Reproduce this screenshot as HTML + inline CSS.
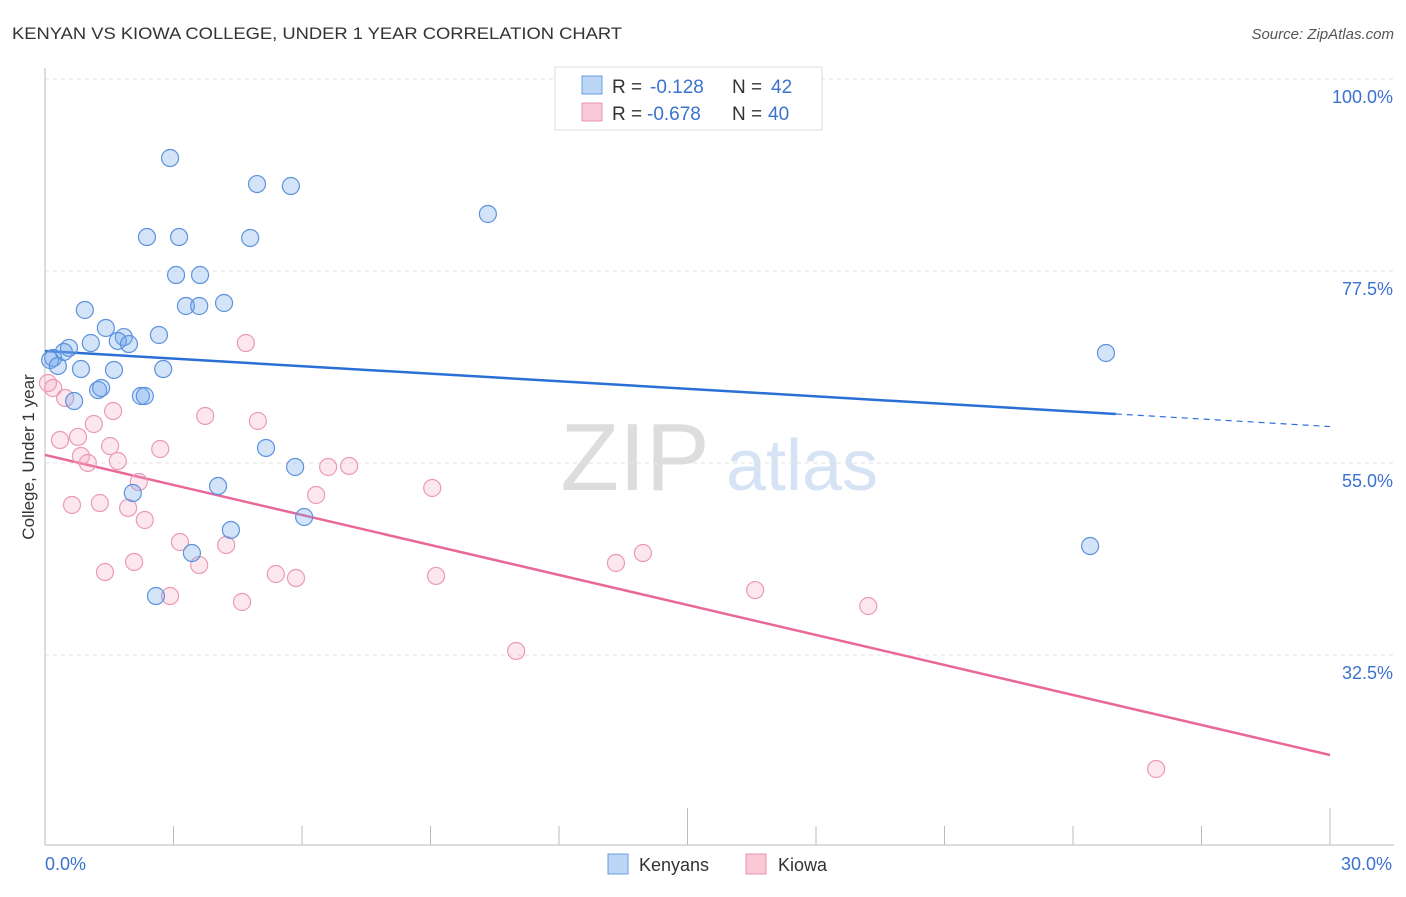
<!DOCTYPE html>
<html><head><meta charset="utf-8"><style>
body{margin:0;background:#fff;font-family:"Liberation Sans",sans-serif}
svg text{font-family:"Liberation Sans",sans-serif}
</style></head><body>
<svg id="c" width="1406" height="892">
<text x="12" y="39" font-size="17" fill="#333" textLength="610" lengthAdjust="spacingAndGlyphs">KENYAN VS KIOWA COLLEGE, UNDER 1 YEAR CORRELATION CHART</text>
<text x="1394" y="39" font-size="15" fill="#555" font-style="italic" text-anchor="end">Source: ZipAtlas.com</text>
<g>
<text x="635" y="490" font-size="96" fill="#ddd" font-family="Liberation Serif,serif" text-anchor="middle">ZIP</text>
<text x="802" y="490" font-size="72" fill="#d5e3f5" text-anchor="middle">atlas</text>
</g>
<g id="grid"></g><g id="axes"></g><g id="lines"></g><g id="pts"></g>
<text transform="translate(34,457) rotate(-90)" font-size="17" fill="#333" text-anchor="middle">College, Under 1 year</text>
<g>
<rect x="555" y="67" width="267" height="63" fill="#fff" stroke="#ddd"/>
<rect x="582" y="76" width="20" height="18" fill="#bcd6f5" stroke="#6a9ee0"/>
<rect x="582" y="103" width="20" height="18" fill="#f9c9d8" stroke="#e892ad"/>
<text x="612" y="93" font-size="19" fill="#333">R =</text>
<text x="650" y="93" font-size="19" fill="#3a72d0">-0.128</text>
<text x="732" y="93" font-size="19" fill="#333">N =</text>
<text x="771" y="93" font-size="19" fill="#3a72d0">42</text>
<text x="612" y="120" font-size="19" fill="#333">R =</text>
<text x="647" y="120" font-size="19" fill="#3a72d0">-0.678</text>
<text x="732" y="120" font-size="19" fill="#333">N =</text>
<text x="768" y="120" font-size="19" fill="#3a72d0">40</text>
</g>
<g>
<rect x="608" y="854" width="20" height="20" fill="#bcd6f5" stroke="#6a9ee0"/>
<text x="639" y="871" font-size="18" fill="#333">Kenyans</text>
<rect x="746" y="854" width="20" height="20" fill="#f9c9d8" stroke="#e892ad"/>
<text x="778" y="871" font-size="18" fill="#333">Kiowa</text>
</g>
</svg>
<script>
const yTicks=[100,77.5,55,32.5];
const yTickLabels=["100.0%","77.5%","55.0%","32.5%"];
const xTickLabels=["0.0%","30.0%"];
const kenX=[2.92,4.95,5.74,10.34,2.38,3.13,4.79,3.06,3.62,3.29,3.60,4.18,0.93,1.42,1.84,2.66,1.07,1.70,1.96,0.56,0.44,0.19,0.12,0.30,0.84,1.61,2.76,1.24,1.31,2.24,2.33,0.68,5.16,5.84,2.05,4.04,6.05,4.34,3.43,2.59,24.77,24.40];
const kenY=[90.74,87.69,87.46,84.18,81.48,81.48,81.37,77.03,77.03,73.4,73.4,73.75,72.93,70.82,69.76,70.0,69.06,69.3,68.94,68.48,68.01,67.3,67.07,66.37,66.01,65.9,66.01,63.55,63.79,62.85,62.85,62.26,56.76,54.53,51.48,52.3,48.67,47.15,44.45,39.41,67.89,45.27];
const kioX=[0.07,0.19,0.47,1.59,1.14,3.74,4.97,4.69,0.35,0.77,1.52,2.69,0.84,1.00,1.70,6.61,7.10,2.19,6.33,9.04,0.63,1.28,1.94,2.33,3.15,4.23,2.08,1.40,3.60,5.39,5.86,2.92,4.60,9.13,13.33,13.96,16.58,19.22,11.0,25.94];
const kioY=[64.37,63.79,62.62,61.09,59.57,60.51,59.92,69.06,57.69,58.05,56.99,56.64,55.82,55.0,55.23,54.53,54.65,52.77,51.25,52.07,50.08,50.31,49.73,48.32,45.74,45.39,43.4,42.22,43.04,41.99,41.52,39.41,38.71,41.76,43.28,44.45,40.11,38.24,32.97,19.14];
const kenTrend=[68.12,-0.295,25];
const kioTrend=[55.94,-1.172];
const NS="http://www.w3.org/2000/svg";
const sx=v=>45+v*42.833, sy=v=>79+(100-v)*8.533;
function mk(tag,attrs,parent){const e=document.createElementNS(NS,tag);for(const k in attrs)e.setAttribute(k,attrs[k]);document.getElementById(parent).appendChild(e);return e;}
yTicks.forEach((t,i)=>{
 const l=mk('line',{x1:45,x2:1394,y1:sy(t),y2:sy(t),stroke:'#e2e2e2','stroke-dasharray':'4,4'},'grid');
 
 
 const tx=mk('text',{x:1393,y:sy(t)+24,'font-size':18,fill:'#3a72d0','text-anchor':'end'},'grid');
 tx.textContent=yTickLabels[i];
 
 
});
mk('line',{x1:45,x2:45,y1:68,y2:845,stroke:'#bbb'},'axes');
mk('line',{x1:45,x2:1394,y1:845,y2:845,stroke:'#bbb'},'axes');
for(let i=0;i<=10;i++){const v=i*3;const big=(i==5||i==10);
 const t=mk('line',{x1:sx(v),x2:sx(v),y1:big?808:826,y2:845,stroke:'#bbb'},'axes');
 
 }
[[0,'start'],[30,'end']].forEach((p,i)=>{const t=mk('text',{x:sx(p[0])+(i?62:0),y:870,'font-size':18,fill:'#3a72d0','text-anchor':i?'end':'start'},'axes');t.textContent=xTickLabels[i];
 
 });
let l1=mk('line',{x1:sx(0),y1:sy(kenTrend[0]),x2:sx(kenTrend[2]),y2:sy(kenTrend[0]+kenTrend[1]*kenTrend[2]),stroke:'#2a6fd6','stroke-width':2.5},'lines');


let l2=mk('line',{x1:sx(kenTrend[2]),y1:sy(kenTrend[0]+kenTrend[1]*kenTrend[2]),x2:sx(30),y2:sy(kenTrend[0]+kenTrend[1]*30),stroke:'#2a6fd6','stroke-width':1.2,'stroke-dasharray':'6,5'},'lines');


let l3=mk('line',{x1:sx(0),y1:sy(kioTrend[0]),x2:sx(30),y2:sy(kioTrend[0]+kioTrend[1]*30),stroke:'#e8689a','stroke-width':2.5},'lines');


kioX.forEach((x,i)=>{const c=mk('circle',{cx:sx(x),cy:sy(kioY[i]),r:8.5,fill:'rgba(245,160,190,0.25)',stroke:'#eb9ab5','stroke-width':1.2},'pts');
 
 });
kenX.forEach((x,i)=>{const c=mk('circle',{cx:sx(x),cy:sy(kenY[i]),r:8.5,fill:'rgba(110,165,235,0.3)',stroke:'#5d92dc','stroke-width':1.2},'pts');
 
 });
</script>
</body></html>
